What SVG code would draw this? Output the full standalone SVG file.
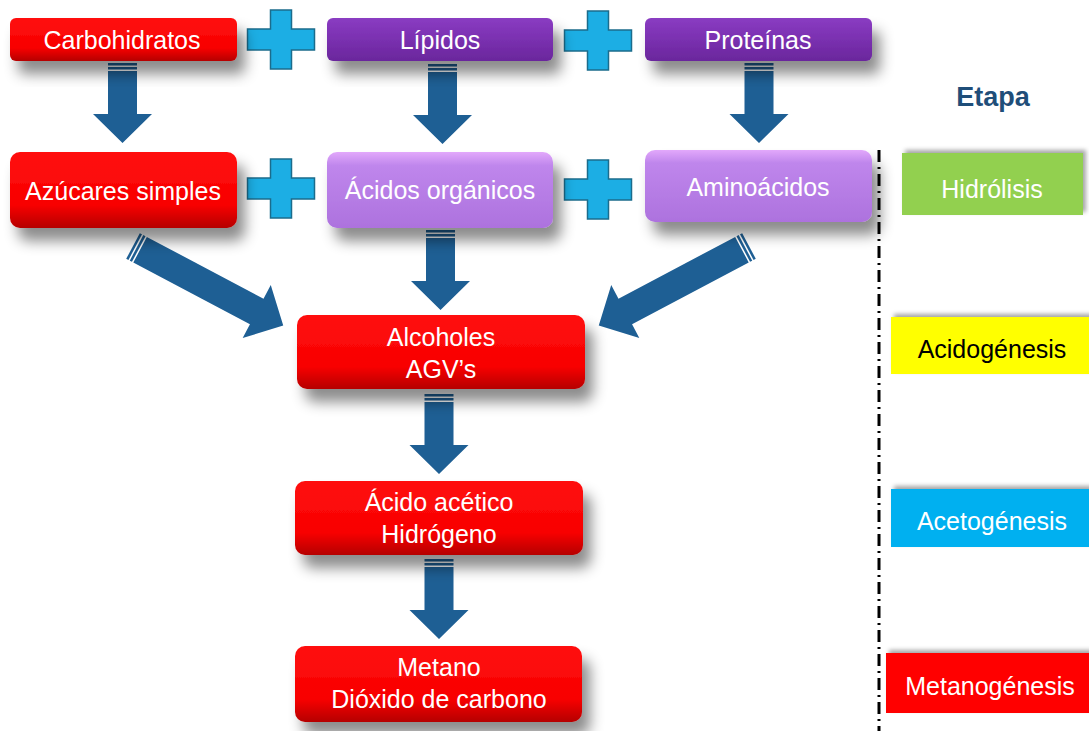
<svg xmlns="http://www.w3.org/2000/svg" width="1089" height="731" viewBox="0 0 1089 731">
<style>
.t{font-family:"Liberation Sans",Arial,sans-serif;font-size:25px;fill:#fff;text-anchor:middle}
.tb{font-family:"Liberation Sans",Arial,sans-serif;font-size:27px;font-weight:bold;fill:#1f4e79;text-anchor:middle}
.red{fill:url(#gRed);filter:url(#sh)}
.pur{fill:url(#gPur);filter:url(#sh)}
.lpur{fill:url(#gLPur);filter:url(#sh)}
.arr{fill:#1e5f94}
.plus{fill:#1caee4;stroke:#1b6c8c;stroke-width:1.5}
.stage{filter:url(#sh2)}
</style>
<defs>
<linearGradient id="gRed" x1="0" y1="0" x2="0" y2="1">
<stop offset="0" stop-color="#ff1010"/><stop offset="0.7" stop-color="#f80000"/><stop offset="1" stop-color="#b50000"/>
</linearGradient>
<linearGradient id="gPur" x1="0" y1="0" x2="0" y2="1">
<stop offset="0" stop-color="#8a3cc2"/><stop offset="0.5" stop-color="#7a30b0"/><stop offset="1" stop-color="#6a279c"/>
</linearGradient>
<linearGradient id="gLPur" x1="0" y1="0" x2="0" y2="1">
<stop offset="0" stop-color="#e2a8fb"/><stop offset="0.18" stop-color="#bf86ec"/><stop offset="1" stop-color="#ad72de"/>
</linearGradient>
<filter id="sh" x="-20%" y="-40%" width="150%" height="200%">
<feDropShadow dx="8" dy="13" stdDeviation="7" flood-color="#000" flood-opacity="0.45"/>
</filter>
<filter id="sh2" x="-10%" y="-30%" width="130%" height="160%">
<feDropShadow dx="3" dy="-3" stdDeviation="2" flood-color="#000" flood-opacity="0.35"/>
</filter>
<g id="down">
<rect x="-14.5" y="0" width="29" height="2.5"/>
<rect x="-14.5" y="4" width="29" height="2.5"/>
<path d="M-14.5,8 H14.5 V51 H29.5 L0,80 L-29.5,51 H-14.5 Z"/>
</g>
<g id="diag">
<rect x="0" y="-14.5" width="2.5" height="29"/>
<rect x="4" y="-14.5" width="2.5" height="29"/>
<path d="M8,-14.5 V14.5 H140 V30 L170,0 L140,-30 V-14.5 Z"/>
</g>
<path id="plusShape" d="M-10.5,-29.5 H10.5 V-10.5 H33.5 V10.5 H10.5 V29.5 H-10.5 V10.5 H-33.5 V-10.5 H-10.5 Z"/>
</defs>

<g id="connectors" class="arr">
<use href="#down" transform="translate(122.5,63)"/>
<use href="#down" transform="translate(442.5,64)"/>
<use href="#down" transform="translate(759,63)"/>
<use href="#down" transform="translate(440.5,230)"/>
<use href="#down" transform="translate(439,394)"/>
<use href="#down" transform="translate(439,559)"/>
<use href="#diag" transform="translate(133,246) rotate(27.9)"/>
<use href="#diag" transform="translate(749,246) rotate(152.1)"/>
</g>

<g id="plus-signs" class="plus">
<use href="#plusShape" transform="translate(281,39.5)"/>
<use href="#plusShape" transform="translate(598,40.5)"/>
<use href="#plusShape" transform="translate(281,188.5)"/>
<use href="#plusShape" transform="translate(598,189.5)"/>
</g>

<g id="carbohidratos"><rect class="red" x="10" y="18" width="227" height="43" rx="6"/><text class="t" x="122" y="49">Carbohidratos</text></g>
<g id="lipidos"><rect class="pur" x="327" y="18" width="226" height="43" rx="6"/><text class="t" x="440" y="49">Lípidos</text></g>
<g id="proteinas"><rect class="pur" x="645" y="18" width="227" height="43" rx="6"/><text class="t" x="758" y="49">Proteínas</text></g>

<g id="azucares"><rect class="red" x="10" y="152" width="227" height="76" rx="10"/><text class="t" x="123" y="200">Azúcares simples</text></g>
<g id="acidos-organicos"><rect class="lpur" x="327" y="152" width="226" height="76" rx="10"/><text class="t" x="440" y="199">Ácidos orgánicos</text></g>
<g id="aminoacidos"><rect class="lpur" x="645" y="150" width="227" height="72" rx="10"/><text class="t" x="758" y="196">Aminoácidos</text></g>

<g id="alcoholes"><rect class="red" x="297" y="315" width="288" height="74" rx="10"/><text class="t" x="441" y="346">Alcoholes</text><text class="t" x="441" y="378">AGV’s</text></g>
<g id="acido-acetico"><rect class="red" x="295" y="481" width="288" height="74" rx="10"/><text class="t" x="439" y="511">Ácido acético</text><text class="t" x="439" y="543">Hidrógeno</text></g>
<g id="metano"><rect class="red" x="295" y="646" width="287" height="76" rx="10"/><text class="t" x="439" y="676">Metano</text><text class="t" x="439" y="708">Dióxido de carbono</text></g>

<g id="etapa"><text class="tb" x="993" y="106">Etapa</text></g>
<g id="divider"><line x1="879" y1="150" x2="879" y2="731" stroke="#000" stroke-width="3" stroke-dasharray="12 5 2 5"/></g>

<g id="hidrolisis"><rect class="stage" x="902" y="153" width="181" height="62" fill="#92d050"/><text class="t" x="992" y="198">Hidrólisis</text></g>
<g id="acidogenesis"><rect class="stage" x="891" y="317" width="205" height="57" fill="#ffff00"/><text class="t" x="992" y="358" style="fill:#000">Acidogénesis</text></g>
<g id="acetogenesis"><rect class="stage" x="891" y="489" width="205" height="58" fill="#00b0f0"/><text class="t" x="992" y="530">Acetogénesis</text></g>
<g id="metanogenesis"><rect class="stage" x="886" y="653" width="210" height="60" fill="#ff0000"/><text class="t" x="990" y="695">Metanogénesis</text></g>
</svg>
